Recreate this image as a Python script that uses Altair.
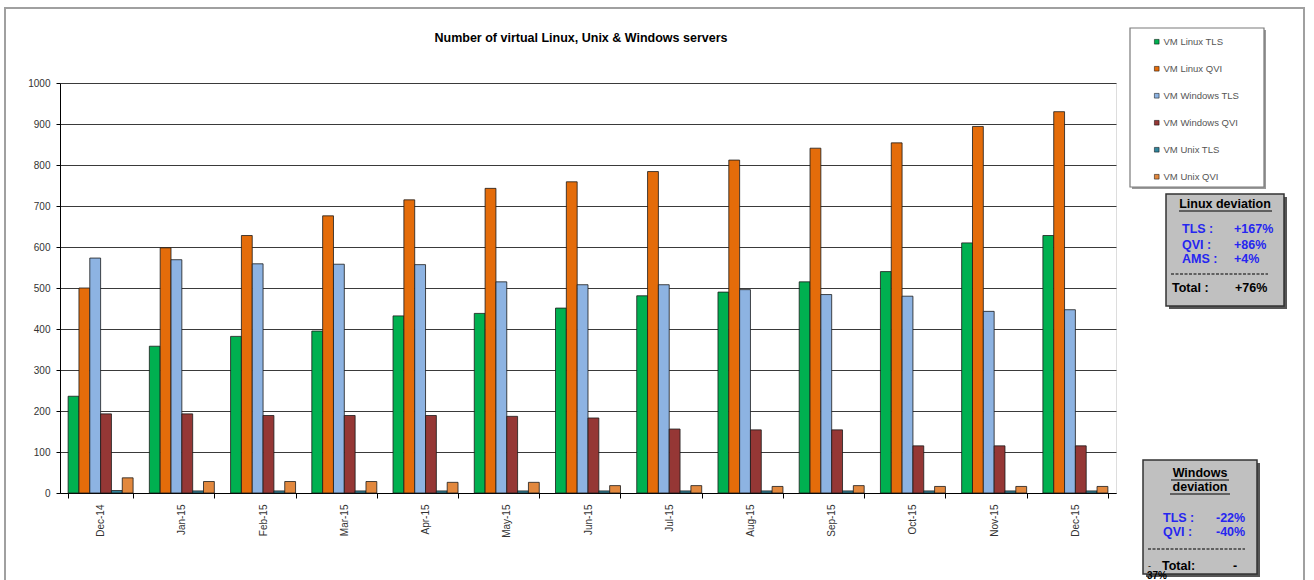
import altair as alt
import pandas as pd

# ---- data -----------------------------------------------------------------
months = ["Dec-14", "Jan-15", "Feb-15", "Mar-15", "Apr-15", "May-15", "Jun-15",
          "Jul-15", "Aug-15", "Sep-15", "Oct-15", "Nov-15", "Dec-15"]
series = ["VM Linux TLS", "VM Linux QVI", "VM Windows TLS",
          "VM Windows QVI", "VM Unix TLS", "VM Unix QVI"]

linux_tls = [236, 358, 382, 395, 432, 438, 451, 481, 490, 515, 540, 610, 628]
linux_qvi = [500, 598, 628, 676, 715, 743, 759, 784, 812, 841, 854, 894, 930]
windows_tls = [573, 569, 559, 558, 557, 515, 508, 508, 496, 484, 480, 443, 447]
windows_qvi = [193, 193, 189, 189, 189, 187, 183, 156, 154, 154, 115, 115, 115]
unix_tls = [6, 5, 5, 5, 5, 5, 5, 5, 5, 5, 5, 5, 5]
unix_qvi = [37, 28, 28, 28, 26, 26, 18, 18, 16, 18, 16, 16, 16]

colors = ["#00B050", "#E46C0A", "#8DB3E2", "#953735", "#31859C", "#E2883E"]

# deviation summaries (percent)
linux_dev_labels = ["TLS :", "QVI :", "AMS :"]
linux_dev_values = [167, 86, 4]
linux_dev_total = 76
windows_dev_labels = ["TLS :", "QVI :"]
windows_dev_values = [-22, -40]
windows_dev_total = -37

rows = []
for name, vals in zip(series, [linux_tls, linux_qvi, windows_tls,
                               windows_qvi, unix_tls, unix_qvi]):
    for m, v in zip(months, vals):
        rows.append({"month": m, "series": name, "servers": v})
df = pd.DataFrame(rows)

# ---- layout ---------------------------------------------------------------
OX, OY = 60, 83          # plot origin on the page
W, H = 1056, 410          # plot area
FONT = "Liberation Sans"
one = pd.DataFrame({"k": [0]})


def pct(v):
    return f"{v:+d}%"


def rect(x0, y0, x1, y1, fill, stroke="#000000", sw=0.0, fo=1.0):
    return alt.Chart(one).mark_rect(
        fill=fill, fillOpacity=fo, stroke=stroke, strokeWidth=sw
    ).encode(x=alt.value(x0 - OX), x2=alt.value(x1 - OX),
             y=alt.value(y0 - OY), y2=alt.value(y1 - OY))


def hline(x0, x1, y, color="#000000", sw=1.0, dash=None):
    kw = dict(color=color, strokeWidth=sw)
    if dash:
        kw["strokeDash"] = dash
    return alt.Chart(one).mark_rule(**kw).encode(
        x=alt.value(x0 - OX), x2=alt.value(x1 - OX), y=alt.value(y - OY))


def text(s, x, y, size=12, color="#000000", bold=True, align="left"):
    return alt.Chart(one).mark_text(
        text=s, font=FONT, fontSize=size, color=color, align=align,
        baseline="middle", fontWeight="bold" if bold else "normal"
    ).encode(x=alt.value(x - OX), y=alt.value(y - OY))


BLUE = "#2626F0"
FS = 12.5

# ---- bars -----------------------------------------------------------------
bars = alt.Chart(df).mark_bar(stroke="#1a1a1a", strokeWidth=0.8).encode(
    x=alt.X("month:N", sort=months, title=None,
            scale=alt.Scale(paddingInner=0.2, paddingOuter=0.1),
            axis=alt.Axis(labelAngle=270, labelFontSize=10, labelColor="#333333",
                          labelPadding=6, tickBand="extent", tickSize=5,
                          tickColor="#000000", domainColor="#000000",
                          labelFont=FONT)),
    xOffset=alt.XOffset("series:N", sort=series,
                        scale=alt.Scale(paddingInner=0, paddingOuter=0)),
    y=alt.Y("servers:Q", title=None,
            scale=alt.Scale(domain=[0, 1000], nice=False),
            axis=alt.Axis(values=list(range(0, 1001, 100)), format="d",
                          grid=True, gridColor="#3a3a3a", gridWidth=1,
                          tickSize=4, tickColor="#000000",
                          domainColor="#000000", labelFontSize=10,
                          labelColor="#333333", labelPadding=6,
                          labelFont=FONT)),
    color=alt.Color("series:N", sort=series,
                    scale=alt.Scale(domain=series, range=colors),
                    legend=alt.Legend(title=None, orient="none",
                                      legendX=1152 - OX, legendY=37 - OY,
                                      symbolType="square", symbolSize=22,
                                      symbolStrokeColor="#000000",
                                      symbolStrokeWidth=0.5,
                                      labelFontSize=9.5, labelColor="#555555",
                                      labelFont=FONT, rowPadding=16,
                                      labelOffset=2)),
)

# ---- decorations ----------------------------------------------------------
frame = rect(5, 8, 1304, 610, "#ffffff", stroke="#a0a0a0", sw=2, fo=0)

legend_shadow = rect(1132, 30, 1266, 189, "#9a9a9a")
legend_box = rect(1130, 28, 1264, 187, "#ffffff", stroke="#7a7a7a", sw=1.2)

title = text("Number of virtual Linux, Unix & Windows servers", 581, 38,
             size=12.5, align="center")

# Linux deviation panel
lx = [
    rect(1169, 197, 1287, 309, "#555555"),
    rect(1166, 194, 1284, 306, "#C0C0C0", stroke="#333333", sw=1.5),
    text("Linux deviation", 1225, 204, size=FS, align="center"),
    hline(1179, 1272, 211, sw=1.2),
]
for i, (lab, val) in enumerate(zip(linux_dev_labels, linux_dev_values)):
    yy = [229, 245, 259][i]
    lx.append(text(lab, 1182, yy, size=FS, color=BLUE))
    lx.append(text(pct(val), 1234, yy, size=FS, color=BLUE))
lx += [
    hline(1171, 1268, 274, sw=1, dash=[3, 1.5]),
    text("Total :", 1172, 288, size=FS),
    text(pct(linux_dev_total), 1235, 288, size=FS),
]

# Windows deviation panel
wx = [
    rect(1146, 463, 1260, 577, "#555555"),
    rect(1143, 460, 1257, 574, "#C0C0C0", stroke="#333333", sw=1.5),
    text("Windows", 1200, 473, size=FS, align="center"),
    hline(1171, 1229, 480, sw=1.2),
    text("deviation", 1200, 487, size=FS, align="center"),
    hline(1170, 1230, 494, sw=1.2),
]
for i, (lab, val) in enumerate(zip(windows_dev_labels, windows_dev_values)):
    yy = [518, 532][i]
    wx.append(text(lab, 1163, yy, size=FS, color=BLUE))
    wx.append(text(pct(val), 1216, yy, size=FS, color=BLUE))
total_w = pct(windows_dev_total)
wx += [
    hline(1148, 1245, 549, sw=1, dash=[3, 1.5]),
    text("-", 1148, 566, size=9, bold=False),
    text("Total:", 1162, 566, size=FS),
    text(total_w[0], 1233, 566, size=FS),
    text(total_w[1:], 1147, 576, size=10),
]

chart = alt.layer(
    frame, legend_shadow, legend_box, bars, title, *lx, *wx
).properties(
    width=W, height=H,
    autosize=alt.AutoSizeParams(type="none"),
    padding={"left": OX, "top": OY, "right": 1314 - OX - W, "bottom": 580 - OY - H},
    background="#ffffff",
).configure_view(
    fill="#FFFF99", stroke="#808080", strokeWidth=1
).configure(font=FONT)

chart.save("out.html", embed_options={"renderer": "svg", "actions": False})
